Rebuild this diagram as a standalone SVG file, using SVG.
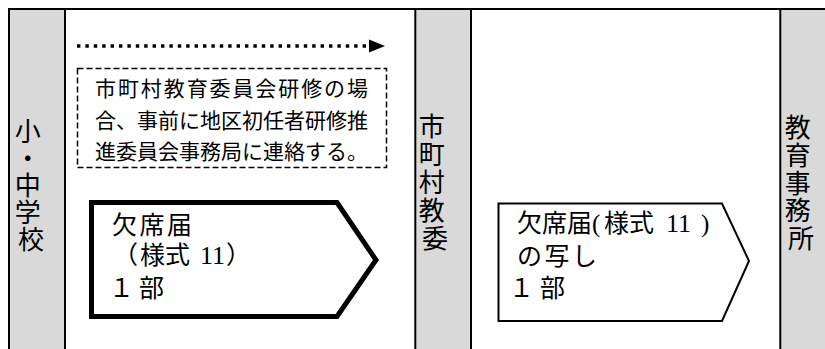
<svg xmlns="http://www.w3.org/2000/svg" width="825" height="349" viewBox="0 0 825 349">
  <defs>
    <style>
      .lane { fill: #d9d9d9; stroke: none; }
      .rule { stroke: #000; stroke-width: 2; fill: none; }
      .t { font-family: "Liberation Serif", "Noto Sans CJK JP", serif; fill: #000; }
      .lbl { font-size: 26px; text-anchor: middle; }
      .note { font-size: 21px; }
      .form { font-size: 25px; }
      .lat { font-family: "Liberation Serif", serif; }
    </style>
  </defs>
  <rect width="825" height="349" fill="#fff"/>

  <g id="lanes">
    <rect class="lane" x="9" y="9" width="56" height="340"/>
    <rect class="lane" x="415" y="9" width="56" height="340"/>
    <rect class="lane" x="780" y="9" width="45" height="340"/>
    <line class="rule" x1="8" y1="9" x2="825" y2="9"/>
    <line class="rule" x1="9" y1="9" x2="9" y2="349"/>
    <line class="rule" x1="65" y1="9" x2="65" y2="349"/>
    <line class="rule" x1="415.3" y1="9" x2="415.3" y2="349"/>
    <line class="rule" x1="471" y1="9" x2="471" y2="349"/>
    <line class="rule" x1="780.3" y1="9" x2="780.3" y2="349"/>
  </g>

  <g id="lane-school">
    <text class="t lbl">
      <tspan x="31" y="141">小</tspan>
      <tspan x="31" y="168">・</tspan>
      <tspan x="31" y="195">中</tspan>
      <tspan x="31" y="222">学</tspan>
      <tspan x="31" y="249">校</tspan>
    </text>
  </g>

  <g id="lane-city">
    <text class="t lbl">
      <tspan x="435" y="136">市</tspan>
      <tspan x="435" y="164">町</tspan>
      <tspan x="435" y="192">村</tspan>
      <tspan x="435" y="220">教</tspan>
      <tspan x="435" y="248">委</tspan>
    </text>
  </g>

  <g id="lane-office">
    <text class="t lbl">
      <tspan x="801" y="137">教</tspan>
      <tspan x="801" y="165">育</tspan>
      <tspan x="801" y="193">事</tspan>
      <tspan x="801" y="220">務</tspan>
      <tspan x="801" y="248">所</tspan>
    </text>
  </g>

  <g id="connectors">
    <line x1="77" y1="46" x2="369" y2="46" stroke="#000" stroke-width="3.4" stroke-dasharray="3.4 5"/>
    <polygon points="369,39.5 385,46 369,52.5" fill="#000"/>
  </g>

  <g id="note">
    <rect x="77.5" y="68.5" width="309" height="99" fill="none" stroke="#000" stroke-width="1.5" stroke-dasharray="6 3"/>
    <text class="t note" x="95" y="95.5" textLength="273" lengthAdjust="spacing">市町村教育委員会研修の場</text>
    <text class="t note" x="95" y="127.5">合、事前に地区初任者研修推</text>
    <text class="t note" x="95" y="159">進委員会事務局に連絡する。</text>
  </g>

  <g id="form-school">
    <polygon points="91.5,202.5 337,202.5 376,260 337,316.5 91.5,316.5" fill="#fff" stroke="#000" stroke-width="5" stroke-linejoin="miter"/>
    <text class="t form" x="112" y="234" textLength="80" lengthAdjust="spacing">欠席届</text>
    <text class="t form" y="264"><tspan x="113">（</tspan><tspan x="140">様式</tspan><tspan class="lat" x="200" font-size="26">11</tspan><tspan x="226">）</tspan></text>
    <text class="t form" y="297"><tspan x="109">１</tspan><tspan x="139">部</tspan></text>
  </g>

  <g id="form-city">
    <polygon points="498.5,203.5 722,203.5 749,261 722,321 498.5,321" fill="#fff" stroke="#000" stroke-width="2"/>
    <text class="t form" y="232"><tspan x="517">欠席届</tspan><tspan class="lat" x="592">(</tspan><tspan x="604">様式</tspan><tspan class="lat" x="666" font-size="26">11</tspan><tspan class="lat" x="701">)</tspan></text>
    <text class="t form" x="517" y="265" textLength="80" lengthAdjust="spacing">の写し</text>
    <text class="t form" y="297"><tspan x="509">１</tspan><tspan x="540">部</tspan></text>
  </g>
</svg>
